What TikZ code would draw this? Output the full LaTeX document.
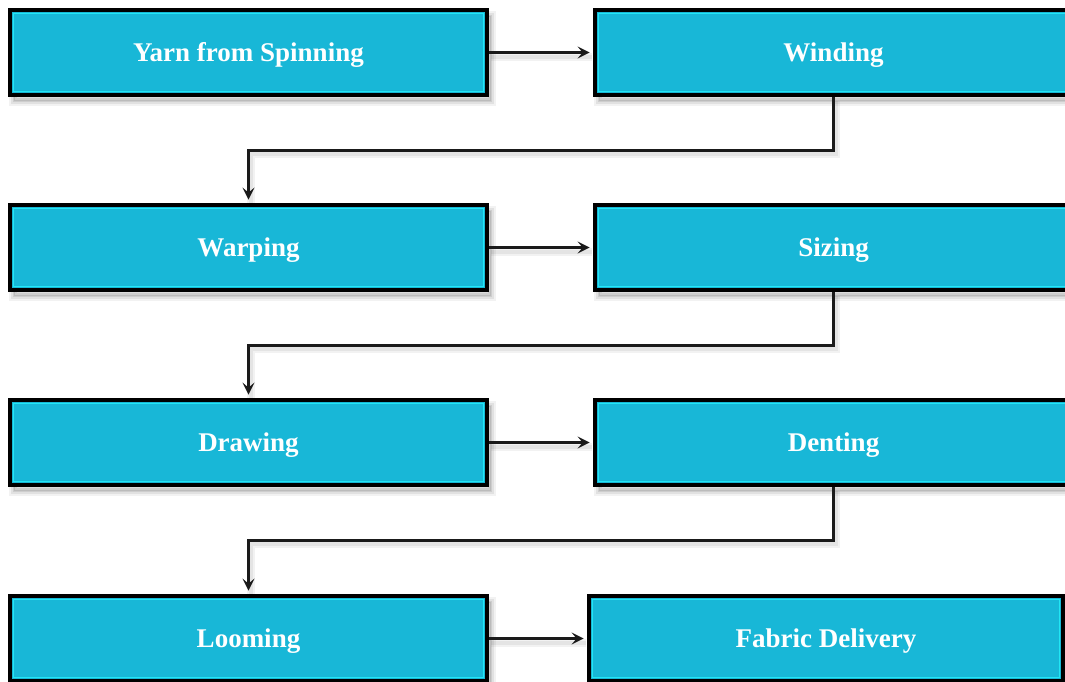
\documentclass[tikz,border=0pt]{standalone}
\usepackage{fontspec}
\setmainfont{Liberation Serif}
\usetikzlibrary{arrows.meta,calc}
\definecolor{boxfill}{HTML}{18B7D7}
\definecolor{innerline}{HTML}{22E6F4}
\definecolor{arrowcol}{HTML}{1A1A1A}
\tikzset{
  softshadow/.style={
    preaction={draw=black, opacity=0.05, line width=10pt, transform canvas={shift={(4pt,-6pt)}}},
    preaction={draw=black, opacity=0.07, line width=6pt, transform canvas={shift={(4pt,-6pt)}}},
    preaction={draw=black, opacity=0.09, line width=2pt, fill=black, transform canvas={shift={(4pt,-6pt)}}}},
  procbox/.style={softshadow, draw=black, line width=4.8pt, fill=boxfill, minimum height=85pt,
    inner sep=0pt, text=white, font=\fontsize{27}{30}\selectfont\bfseries,
    text height=18pt, text depth=0pt,
    path picture={\draw[innerline, line width=1.6pt]
      ([shift={(3.4pt,3.4pt)}]path picture bounding box.south west) rectangle
      ([shift={(-3.4pt,-3.4pt)}]path picture bounding box.north east);}},
  flow/.style={draw=arrowcol, line width=2.3pt, -{Stealth[length=12pt,width=12pt,inset=5pt]},
    preaction={draw=black, opacity=0.05, line width=8pt, -, transform canvas={shift={(2pt,-4pt)}}},
    preaction={draw=black, opacity=0.06, line width=4pt, -, transform canvas={shift={(2pt,-4pt)}}}}
}
\begin{document}
\begin{tikzpicture}[x=1pt,y=1pt]
\useasboundingbox (0,0) rectangle (1065,-681);
\node[procbox, minimum width=477pt] (yarn) at (248.5,-52.5) {Yarn from Spinning};
\node[procbox, minimum width=477pt] (winding) at (833.5,-52.5) {Winding};
\node[procbox, minimum width=477pt] (warping) at (248.5,-247.5) {Warping};
\node[procbox, minimum width=477pt] (sizing) at (833.5,-247.5) {Sizing};
\node[procbox, minimum width=477pt] (drawing) at (248.5,-442.5) {Drawing};
\node[procbox, minimum width=477pt] (denting) at (833.5,-442.5) {Denting};
\node[procbox, minimum width=477pt] (looming) at (248.5,-638.5) {Looming};
\node[procbox, minimum width=474pt] (fabric) at (826,-638.5) {Fabric Delivery};
\draw[flow, shorten >=3pt] (yarn.east) -- (winding.west);
\draw[flow, shorten >=3pt] (warping.east) -- (sizing.west);
\draw[flow, shorten >=3pt] (drawing.east) -- (denting.west);
\draw[flow, shorten >=3pt] (looming.east) -- (fabric.west);
\draw[flow, shorten >=3pt] (winding.south) -- ++(0,-53) -| (warping.north);
\draw[flow, shorten >=3pt] (sizing.south) -- ++(0,-53) -| (drawing.north);
\draw[flow, shorten >=3pt] (denting.south) -- ++(0,-53) -| (looming.north);
\end{tikzpicture}
\end{document}
